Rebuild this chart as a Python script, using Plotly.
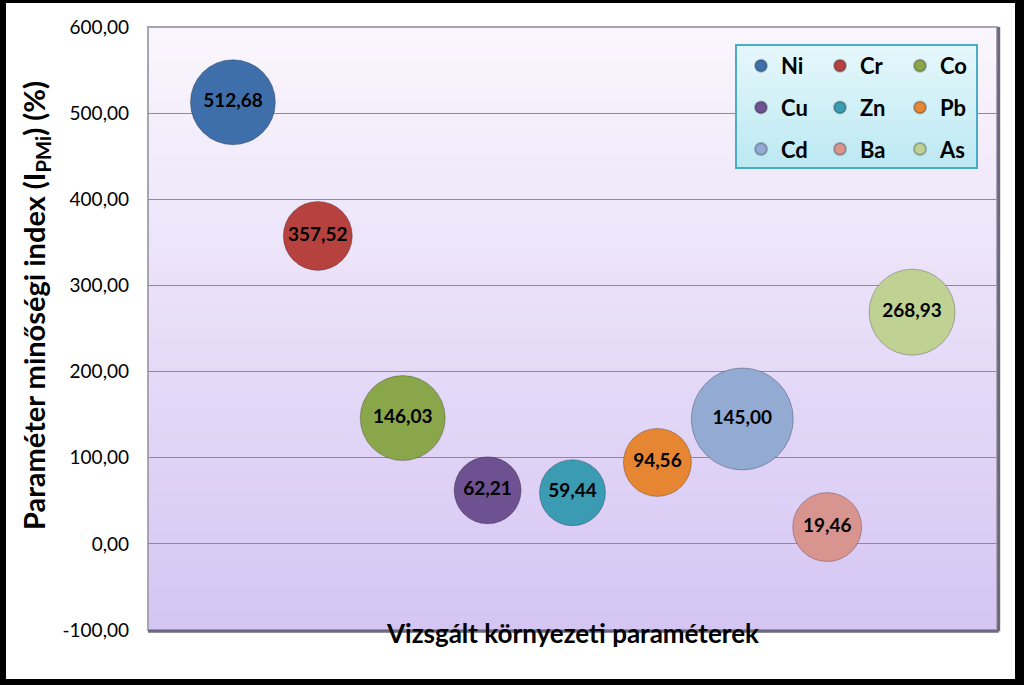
"""
Bubble chart: Paraméter minőségi index (I_PMi) per vizsgált paraméter.
"""

import plotly.graph_objects as go

# ── data ─────────────────────────────────────────────────────────────────
ELEMENTS = ["Ni", "Cr", "Co", "Cu", "Zn", "Pb", "Cd", "Ba", "As"]
X_POS = [1, 2, 3, 4, 5, 6, 7, 8, 9]
IPMI = [512.68, 357.52, 146.03, 62.21, 59.44, 94.56, 145.00, 19.46, 268.93]
BUBBLE_SIZE = [85, 69, 85, 67, 66, 68, 102, 69, 86]

Y_TICKS = [-100, 0, 100, 200, 300, 400, 500, 600]
Y_TICK_LABELS = ["-100,00", "0,00", "100,00", "200,00", "300,00",
                 "400,00", "500,00", "600,00"]

# ── colour palette ───────────────────────────────────────────────────────
COLORS = ["#3F6FAA", "#B6423F", "#8AA64A", "#6D5190", "#3A9BB2",
          "#E68632", "#93ABD3", "#D8948F", "#BFD294"]
FONT = "Lato"

W, H = 1024, 685
L, R, T, B = 148, 27, 27, 55
PW, PH = W - L - R, H - T - B


def px_x(px):
    return (px - L) / PW


def px_y(py):
    return (H - B - py) / PH


def mix(c1, c2, t):
    a = [int(c1[i:i + 2], 16) for i in (1, 3, 5)]
    b = [int(c2[i:i + 2], 16) for i in (1, 3, 5)]
    return "#" + "".join(f"{round(a[k] + (b[k] - a[k]) * t):02x}" for k in range(3))


fig = go.Figure()

for i, name in enumerate(ELEMENTS):
    legend = ["legend", "legend2", "legend3"][i % 3]
    fig.add_trace(go.Scatter(
        x=[X_POS[i]], y=[IPMI[i]], name=name, legendgroup=name, legend=legend,
        mode="markers+text", texttemplate="%{y:.2f}", textposition="middle center",
        textfont=dict(family=FONT, size=19, color="black", weight="bold"),
        marker=dict(size=[BUBBLE_SIZE[i]], sizemode="diameter", sizeref=1,
                    color=COLORS[i], opacity=1,
                    line=dict(color="rgba(0,0,0,0.25)", width=1)),
        hoverinfo="skip",
    ))

# ── background: black frame, white chart area, lavender gradient plot ────
shapes = [dict(type="rect", xref="paper", yref="paper",
               x0=px_x(6), x1=px_x(1015), y0=px_y(679), y1=px_y(3),
               fillcolor="white", line=dict(width=0), layer="below")]
n_bands = 60
for k in range(n_bands):
    shapes.append(dict(type="rect", xref="paper", yref="paper",
                       x0=0, x1=1, y0=k / n_bands, y1=(k + 1) / n_bands + 0.002,
                       fillcolor=mix("#D5C5F3", "#FAF6FD", k / (n_bands - 1)),
                       line=dict(width=0), layer="below"))
shapes += [
    dict(type="rect", xref="paper", yref="paper", x0=0, x1=1, y0=0, y1=1,
         line=dict(color="#A8A4B4", width=2), layer="below"),
    dict(type="line", xref="paper", yref="paper", x0=0, x1=1.002, y0=-0.002, y1=-0.002,
         line=dict(color="#6C6880", width=3), layer="above"),
    dict(type="line", xref="paper", yref="paper", x0=1.002, x1=1.002, y0=-0.002, y1=1,
         line=dict(color="#6C6880", width=3), layer="above"),
]

# legend box
n_lb = 20
lb_x0, lb_x1, lb_top, lb_bot = px_x(736), px_x(977), px_y(45), px_y(168)
for k in range(n_lb):
    y0 = lb_bot + (lb_top - lb_bot) * k / n_lb
    y1 = lb_bot + (lb_top - lb_bot) * (k + 1) / n_lb
    shapes.append(dict(type="rect", xref="paper", yref="paper",
                       x0=lb_x0, x1=lb_x1, y0=y0, y1=y1 + 0.001,
                       fillcolor=mix("#BDE9F3", "#E4F7FB", k / (n_lb - 1)),
                       line=dict(width=0), layer="above"))
shapes.append(dict(type="rect", xref="paper", yref="paper",
                   x0=lb_x0, x1=lb_x1, y0=lb_bot, y1=lb_top,
                   line=dict(color="#4BACC6", width=2), layer="above"))

legend_style = dict(bgcolor="rgba(0,0,0,0)", borderwidth=0, itemsizing="constant",
                    font=dict(family=FONT, size=22, color="black", weight="bold"),
                    tracegroupgap=10, xanchor="left", yanchor="top", y=px_y(45))

fig.update_layout(
    width=W, height=H,
    margin=dict(l=L, r=R, t=T, b=B),
    paper_bgcolor="black", plot_bgcolor="rgba(0,0,0,0)",
    separators=", ",
    font=dict(family=FONT, color="black"),
    shapes=shapes,
    showlegend=True,
    legend=dict(legend_style, x=px_x(741)),
    legend2=dict(legend_style, x=px_x(820)),
    legend3=dict(legend_style, x=px_x(900)),
    xaxis=dict(range=[0, 10], showticklabels=False, showgrid=False,
               zeroline=False, showline=False, ticks=""),
    yaxis=dict(range=[-100, 600], tickvals=Y_TICKS, ticktext=Y_TICK_LABELS,
               tickfont=dict(family=FONT, size=19, color="black"),
               ticks="", ticklabelstandoff=18,
               showgrid=True, gridcolor="#8E8A96", gridwidth=1,
               zeroline=False, showline=False),
    annotations=[
        dict(text="Paraméter minőségi index (I<sub>PMi</sub>) (%)",
             xref="paper", yref="paper", x=px_x(35), y=px_y(306),
             xanchor="center", yanchor="middle",
             textangle=-90, showarrow=False,
             font=dict(family=FONT, size=29, color="black", weight="bold")),
        dict(text="Vizsgált környezeti paraméterek",
             xref="paper", yref="paper", x=px_x(572), y=px_y(651),
             showarrow=False,
             font=dict(family=FONT, size=26, color="black", weight="bold")),
    ],
)

# the page's default body margin would shift the figure by 8 px
fig.write_html("out.html", config={"displayModeBar": False},
               post_script="document.body.style.margin = '0';")
